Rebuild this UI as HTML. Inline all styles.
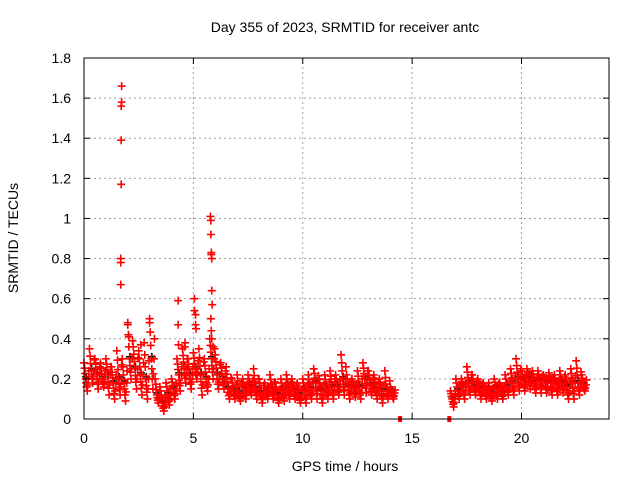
<!DOCTYPE html>
<html><head><meta charset="utf-8"><style>
body{margin:0;background:#fff}
svg{display:block;font-family:"Liberation Sans",sans-serif;font-size:14px}
</style></head><body>
<svg id="chart" width="640" height="480" viewBox="0 0 640 480">
<rect width="640" height="480" fill="#fff"/>
<text x="345" y="32" text-anchor="middle">Day 355 of 2023, SRMTID for receiver antc</text>
<text transform="translate(18,238) rotate(-90)" text-anchor="middle">SRMTID / TECUs</text>
<text x="345" y="471" text-anchor="middle">GPS time / hours</text>
<g id="grid"></g><g id="marks"></g><g id="axes"></g>
</svg>
<script>
const xTicks=[0,5,10,15,20];
const yTicks=[0,0.2,0.4,0.6,0.8,1,1.2,1.4,1.6,1.8];
const yTickLabels=["0","0.2","0.4","0.6","0.8","1","1.2","1.4","1.6","1.8"];
const times=[0,0.25,0.5,0.75,1,1.25,1.5,1.75,2,2.25,2.5,2.75,3,3.25,3.5,3.75,4,4.25,4.5,4.75,5,5.25,5.5,5.75,6,6.25,6.5,6.75,7,7.25,7.5,7.75,8,8.25,8.5,8.75,9,9.25,9.5,9.75,10,10.25,10.5,10.75,11,11.25,11.5,11.75,12,12.25,12.5,12.75,13,13.25,13.5,13.75,14,16.75,17,17.25,17.5,17.75,18,18.25,18.5,18.75,19,19.25,19.5,19.75,20,20.25,20.5,20.75,21,21.25,21.5,21.75,22,22.25,22.5,22.75];
const hiVals=[0.28,0.35,0.3,0.28,0.3,0.26,0.34,0.3,0.48,0.36,0.34,0.38,0.5,0.2,0.14,0.18,0.2,0.3,0.35,0.3,0.33,0.35,0.3,0.4,0.32,0.28,0.26,0.2,0.22,0.2,0.22,0.25,0.2,0.18,0.22,0.18,0.2,0.22,0.2,0.18,0.2,0.22,0.25,0.2,0.22,0.24,0.22,0.32,0.22,0.2,0.24,0.28,0.24,0.22,0.2,0.24,0.16,0.14,0.2,0.2,0.26,0.22,0.2,0.18,0.18,0.2,0.18,0.22,0.25,0.3,0.24,0.25,0.24,0.24,0.22,0.23,0.22,0.24,0.22,0.25,0.29,0.22];
const midVals=[0.2,0.24,0.22,0.2,0.22,0.18,0.2,0.18,0.3,0.25,0.22,0.2,0.3,0.12,0.08,0.12,0.15,0.22,0.25,0.22,0.25,0.22,0.2,0.3,0.22,0.2,0.15,0.14,0.13,0.15,0.16,0.15,0.13,0.14,0.15,0.12,0.14,0.15,0.14,0.12,0.14,0.15,0.18,0.14,0.15,0.16,0.16,0.2,0.16,0.15,0.16,0.2,0.17,0.15,0.14,0.14,0.13,0.1,0.14,0.16,0.18,0.16,0.15,0.14,0.13,0.15,0.14,0.16,0.18,0.2,0.19,0.2,0.18,0.19,0.18,0.18,0.17,0.18,0.16,0.18,0.18,0.17];
const loVals=[0.14,0.18,0.15,0.16,0.12,0.1,0.12,0.09,0.2,0.15,0.12,0.1,0.15,0.08,0.04,0.07,0.1,0.14,0.18,0.15,0.2,0.12,0.14,0.2,0.15,0.15,0.1,0.1,0.09,0.1,0.12,0.1,0.08,0.1,0.1,0.08,0.09,0.1,0.1,0.08,0.08,0.1,0.1,0.08,0.1,0.1,0.12,0.12,0.1,0.11,0.1,0.13,0.12,0.1,0.08,0.1,0.1,0.06,0.1,0.1,0.12,0.12,0.1,0.1,0.09,0.1,0.1,0.12,0.12,0.14,0.14,0.15,0.13,0.13,0.13,0.12,0.12,0.13,0.1,0.1,0.12,0.14];
const spikeTimes=[1.68,1.68,1.68,1.7,1.7,1.7,1.72,1.72,4.3,4.3,4.32,5.05,5.05,5.1,5.1,5.12,5.78,5.8,5.8,5.82,5.82,5.84,5.84,5.86,5.8,5.82,5.84,5.9,2.0,2.05,3.0,2.6,4.6,4.62];
const spikeVals=[0.67,0.78,0.8,1.17,1.39,1.56,1.58,1.66,0.59,0.47,0.37,0.6,0.54,0.52,0.47,0.45,1.01,0.99,0.92,0.82,0.83,0.8,0.64,0.57,0.5,0.44,0.4,0.36,0.47,0.41,0.48,0.37,0.36,0.38];
const zeroTimes=[14.45,16.7];
const zeroVals=[0,0];

const X0=84,X1=609,Y0=419,Y1=58,XMAX=24,YMAX=1.8;
const sx=v=>X0+v/XMAX*(X1-X0);
const sy=v=>Y0-v/YMAX*(Y0-Y1);
const NS="http://www.w3.org/2000/svg";
function mk(tag,attrs,parent){const e=document.createElementNS(NS,tag);for(const k in attrs)e.setAttribute(k,attrs[k]);parent.appendChild(e);return e;}
const grid=document.getElementById('grid'),marks=document.getElementById('marks'),axes=document.getElementById('axes');
xTicks.forEach((t,i)=>{
  const x=sx(t);
  if(t>0){const g=mk('line',{x1:x,x2:x,y1:Y0,y2:Y1,stroke:'#a0a0a0','stroke-dasharray':'2,3'},grid);
  
  }
  mk('line',{x1:x,x2:x,y1:Y0,y2:Y0-6,stroke:'#000'},axes);
  mk('line',{x1:x,x2:x,y1:Y1,y2:Y1+6,stroke:'#000'},axes);
  const l=mk('text',{x:x,y:443,'text-anchor':'middle'},axes);l.textContent=t;
  
  
});
yTicks.forEach((t,i)=>{
  const y=sy(t);
  if(t>0&&t<YMAX){const g=mk('line',{x1:X0,x2:X1,y1:y,y2:y,stroke:'#a0a0a0','stroke-dasharray':'2,3'},grid);
  
  }
  mk('line',{x1:X0,x2:X0+6,y1:y,y2:y,stroke:'#000'},axes);
  mk('line',{x1:X1,x2:X1-6,y1:y,y2:y,stroke:'#000'},axes);
  const l=mk('text',{x:71,y:y+5,'text-anchor':'end'},axes);l.textContent=yTickLabels[i];
  
  
});
const frame=mk('rect',{x:X0,y:Y1,width:X1-X0,height:Y0-Y1,fill:'none',stroke:'#000'},axes);


function plus(t,v,color){
  const x=sx(t),y=sy(v);
  const p=mk('path',{d:`M${x-4},${y}h8M${x},${y-4}v8`,stroke:color,'stroke-width':1.6,fill:'none'},marks);
  
  
}
times.forEach((t,i)=>{plus(t+0.1,midVals[i]+0.01,'#000');});
times.forEach((t,i)=>{
  const h=hiVals[i],m=midVals[i],l=loVals[i];
  plus(t,h,'#f00');
  plus(t+0.03,(2*h+m)/3,'#f00');
  plus(t+0.05,(h+2*m)/3,'#f00');
  plus(t+0.08,m,'#f00');
  plus(t+0.1,(2*m+l)/3,'#f00');
  plus(t+0.12,(m+2*l)/3,'#f00');
  plus(t+0.15,l,'#f00');
  plus(t+0.17,(m+l)/2,'#f00');
  plus(t+0.2,m,'#f00');
  plus(t+0.22,(h+m)/2,'#f00');
});
spikeTimes.forEach((t,i)=>plus(t,spikeVals[i],'#f00'));
zeroTimes.forEach((t,i)=>{
  const r=mk('rect',{x:sx(t)-2,y:sy(zeroVals[i])-3,width:4,height:6,fill:'#f00'},marks);
  
  
});
</script>
</body></html>
